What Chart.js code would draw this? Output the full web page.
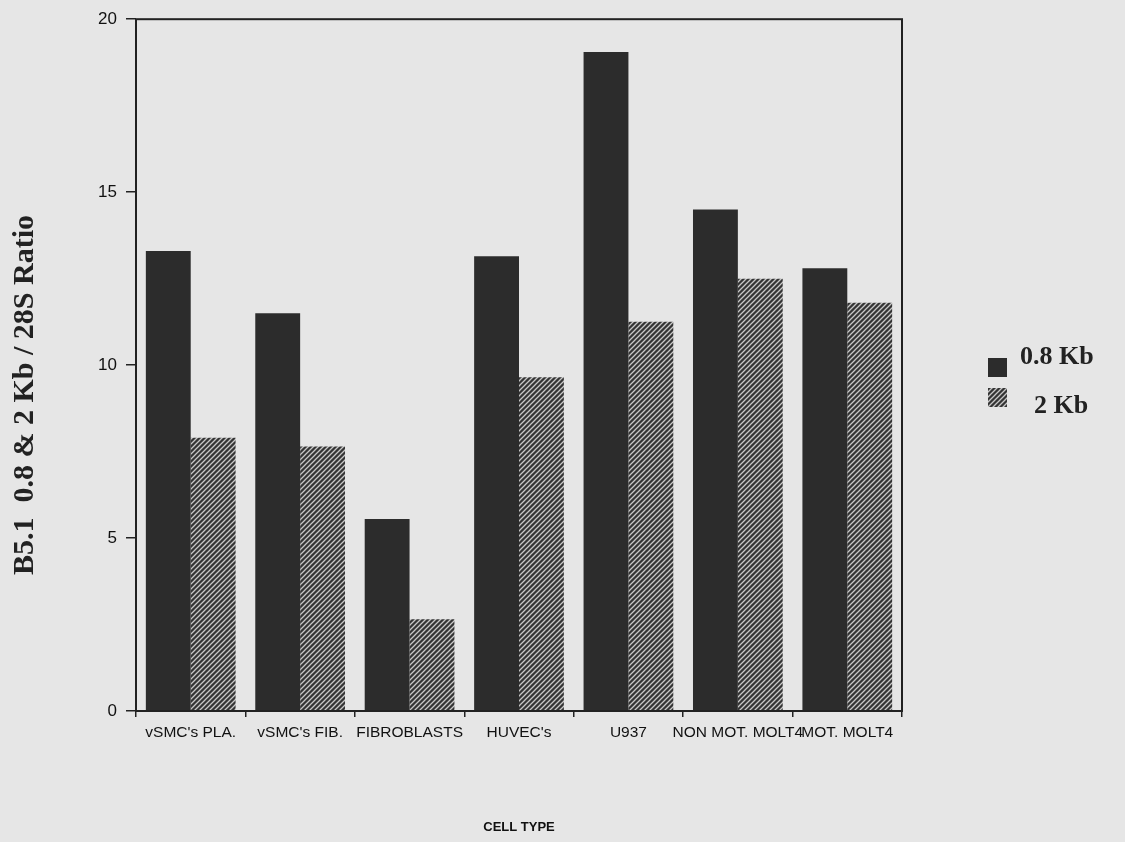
<!DOCTYPE html>
<html>
<head>
<meta charset="utf-8">
<script src="https://cdn.jsdelivr.net/npm/chart.js@4.4.0/dist/chart.umd.min.js"></script>
<style>
  html, body { margin: 0; padding: 0; background: #e6e6e6; }
  #wrap { width: 1125px; height: 842px; position: relative; }
</style>
</head>
<body>
<div id="wrap"><canvas id="cellChart" width="1125" height="842"></canvas></div>
<script>
// Данные графика
const cellTypes = ["vSMC's PLA.", "vSMC's FIB.", 'FIBROBLASTS', "HUVEC's", 'U937', 'NON MOT. MOLT4', 'MOT. MOLT4'];
const kb08 = [13.3, 11.5, 5.55, 13.15, 19.05, 14.5, 12.8];
const kb2 = [7.9, 7.65, 2.65, 9.65, 11.25, 12.5, 11.8];
const seriesNames = ['0.8 Kb', '2 Kb'];
const yTicks = [0, 5, 10, 15, 20];

const darkColor = '#2c2c2c';

// Штриховка для второй серии
function makeHatch() {
    const c = document.createElement('canvas');
    c.width = 5; c.height = 5;
    const g = c.getContext('2d');
    g.fillStyle = '#353535';
    g.fillRect(0, 0, 5, 5);
    g.strokeStyle = '#c8c8c8';
    g.lineWidth = 1.3;
    g.beginPath();
    g.moveTo(-1, 6); g.lineTo(6, -1);
    g.moveTo(-1, 1); g.lineTo(1, -1);
    g.moveTo(4, 6); g.lineTo(6, 4);
    g.stroke();
    return g.createPattern(c, 'repeat');
}
const hatch = makeHatch();

// Рамка, легенда и подпись оси Y
const extras = {
    id: 'extras',
    afterDraw(chart) {
        const { ctx, chartArea: a } = chart;
        ctx.save();
        ctx.strokeStyle = '#222';
        ctx.lineWidth = 2;
        ctx.strokeRect(a.left, a.top, a.right - a.left, a.bottom - a.top);

        // легенда
        ctx.font = 'bold 26px "Liberation Serif", serif';
        ctx.textBaseline = 'middle';
        const items = [
            { boxY: 358, textY: 357, text: 1020 },
            { boxY: 388, textY: 406, text: 1034 }
        ];
        chart.data.datasets.forEach((ds, i) => {
            const it = items[i];
            ctx.fillStyle = ds.backgroundColor;
            ctx.fillRect(988, it.boxY, 19, 19);
            ctx.fillStyle = '#222';
            ctx.textAlign = 'left';
            ctx.fillText(ds.label, it.text, it.textY);
        });

        // подпись оси Y
        ctx.translate(33, 395);
        ctx.rotate(-Math.PI / 2);
        ctx.textAlign = 'center';
        ctx.textBaseline = 'alphabetic';
        ctx.font = 'bold 30px "Liberation Serif", serif';
        ctx.fillText('B5.1  0.8 & 2 Kb / 28S Ratio', 0, 0);
        ctx.restore();
    }
};

const ctx = document.getElementById('cellChart').getContext('2d');
new Chart(ctx, {
    type: 'bar',
    data: {
        labels: cellTypes,
        datasets: [
            { label: seriesNames[0], data: kb08, backgroundColor: darkColor, borderWidth: 0 },
            { label: seriesNames[1], data: kb2, backgroundColor: hatch, borderWidth: 0 }
        ]
    },
    options: {
        responsive: false,
        animation: false,
        events: [],
        layout: { padding: { top: 19, right: 223, left: 0, bottom: 0 } },
        datasets: { bar: { categoryPercentage: 0.82, barPercentage: 1 } },
        plugins: {
            legend: { display: false },
            tooltip: { enabled: false }
        },
        scales: {
            x: {
                afterFit: s => { s.height = 131; },
                grid: { offset: true, drawOnChartArea: false, drawTicks: true, tickLength: 6, color: '#222', lineWidth: 1.5 },
                border: { display: false },
                ticks: {
                    autoSkip: false, maxRotation: 0, padding: 6,
                    color: '#111',
                    font: { family: 'Arial, "Liberation Sans", sans-serif', size: 15.5 }
                },
                title: {
                    display: true,
                    text: 'CELL TYPE',
                    color: '#111',
                    font: { family: 'Arial, "Liberation Sans", sans-serif', size: 13, weight: 'bold' },
                    padding: { top: 0, bottom: 7 }
                }
            },
            y: {
                min: 0, max: 20,
                afterFit: s => { s.width = 136; },
                afterBuildTicks: s => { s.ticks = yTicks.map(v => ({ value: v })); },
                grid: { drawOnChartArea: false, drawTicks: true, tickLength: 10, color: '#222', lineWidth: 1.5 },
                border: { display: false },
                ticks: {
                    padding: 9,
                    color: '#111',
                    font: { family: 'Arial, "Liberation Sans", sans-serif', size: 17 }
                }
            }
        }
    },
    plugins: [extras]
});
</script>
</body>
</html>
